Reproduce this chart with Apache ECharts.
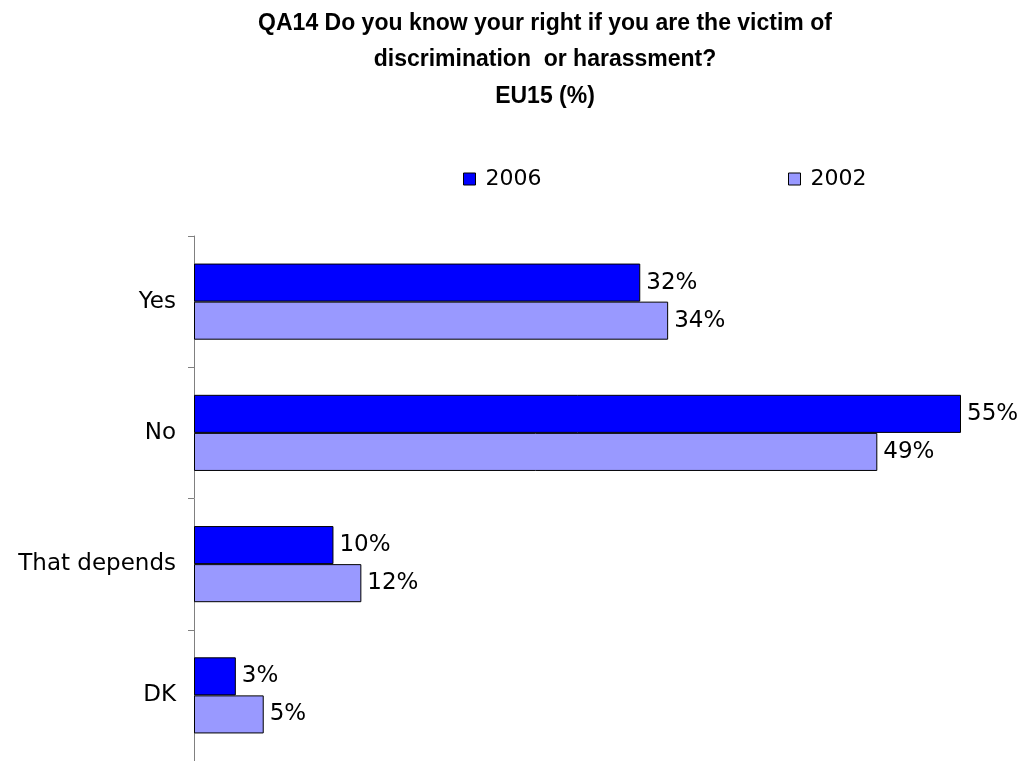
<!DOCTYPE html>
<html>
<head>
<meta charset="utf-8">
<script src="https://cdn.jsdelivr.net/npm/echarts@6/dist/echarts.min.js"></script>
<style>
  html, body { margin: 0; padding: 0; background: #fff; }
  #chart { width: 1024px; height: 761px; }
</style>
</head>
<body>
<div id="chart"></div>
<script>
const categories = ['Yes', 'No', 'That depends', 'DK'];
const values2006 = [32, 55, 10, 3];
const values2002 = [34, 49, 12, 5];
const seriesNames = ['2006', '2002'];

const chart = echarts.init(document.getElementById('chart'));

const labelStyle = {
  show: true,
  position: 'right',
  distance: 6,
  color: '#000',
  fontFamily: 'DejaVu Sans',
  fontSize: 23,
  formatter: p => p.value + '%'
};

const legendBase = {
  icon: 'rect',
  itemWidth: 12,
  itemHeight: 12,
  itemGap: 0,
  padding: 0,
  itemStyle: { borderColor: '#000', borderWidth: 1 },
  textStyle: { fontFamily: 'DejaVu Sans', fontSize: 22, color: '#000', padding: [0, 0, 0, 5] }
};

chart.setOption({
  animation: false,
  title: {
    text: 'QA14 Do you know your right if you are the victim of\ndiscrimination  or harassment?\nEU15 (%)',
    left: 540,
    textAlign: 'center',
    top: 0,
    textStyle: {
      fontFamily: 'Liberation Sans',
      fontWeight: 'bold',
      fontSize: 23,
      lineHeight: 36.5,
      color: '#000'
    }
  },
  legend: [
    Object.assign({ data: [seriesNames[0]], left: 463, top: 168 }, legendBase),
    Object.assign({ data: [seriesNames[1]], left: 788, top: 168 }, legendBase)
  ],
  grid: {
    left: 194,
    top: 236,
    width: 767,
    height: 525
  },
  xAxis: {
    type: 'value',
    min: 0,
    max: 55,
    show: false
  },
  yAxis: {
    type: 'category',
    data: categories,
    inverse: true,
    axisLine: { show: true, lineStyle: { color: '#808080', width: 1 } },
    axisTick: { show: true, inside: false, length: 6, lineStyle: { color: '#808080' } },
    axisLabel: {
      fontFamily: 'DejaVu Sans',
      fontSize: 23,
      color: '#000',
      margin: 18
    }
  },
  series: [
    {
      name: seriesNames[0],
      type: 'bar',
      data: values2006,
      barGap: '0%',
      barCategoryGap: '42%',
      itemStyle: { color: '#0000FF', borderColor: '#000', borderWidth: 1 },
      label: labelStyle
    },
    {
      name: seriesNames[1],
      type: 'bar',
      data: values2002,
      barGap: '0%',
      barCategoryGap: '42%',
      itemStyle: { color: '#9999FF', borderColor: '#000', borderWidth: 1 },
      label: labelStyle
    }
  ]
});
</script>
</body>
</html>
